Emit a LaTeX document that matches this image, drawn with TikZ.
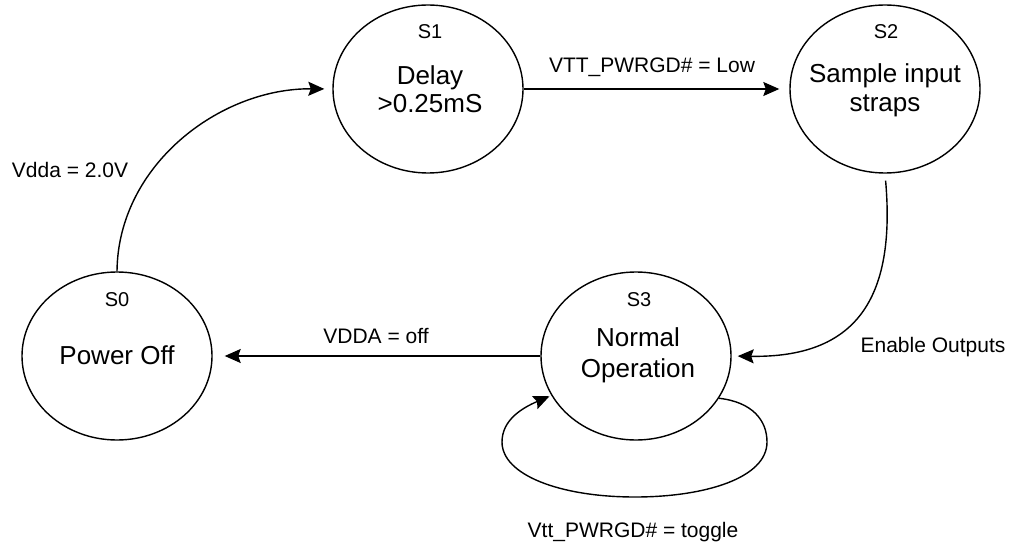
\documentclass[tikz,border=0pt]{standalone}
\usepackage{fontspec}
\setmainfont{Liberation Sans}
\usetikzlibrary{shapes.geometric,arrows.meta}
\tikzset{
  stnode/.style={ellipse, draw, line width=1.4pt, minimum width=190pt, minimum height=168pt, inner sep=0pt},
  big/.style={font=\fontsize{26}{30}\selectfont, anchor=base, inner sep=0pt},
  stlabel/.style={font=\fontsize{20}{24}\selectfont, anchor=base, inner sep=0pt},
  edgelabel/.style={font=\fontsize{21}{25}\selectfont, anchor=base, inner sep=0pt},
  arr/.style={line width=1.4pt, -{Stealth[length=16pt,width=14pt,inset=2.5pt]}}
}
\begin{document}
\begin{tikzpicture}[x=1pt,y=-1pt]
\useasboundingbox (0,0) rectangle (1011,545);
% states
\node[stnode] (s0) at (117,356) {};
\node[stnode] (s1) at (428,89) {};
\node[stnode] (s2) at (885,89) {};
\node[stnode] (s3) at (636,356) {};
% state labels
\node[stlabel] (l0) at (117,306) {S0};
\node[stlabel] (l1) at (430,39) {S1};
\node[stlabel] (l2) at (886,39) {S2};
\node[stlabel] (l3) at (639,306) {S3};
% state texts
\node[big] (t0) at (117,364) {Power Off};
\node[big] (t1a) at (430,85) {Delay};
\node[big] (t1b) at (430,113) {>0.25mS};
\node[big] (t2a) at (885,83) {Sample input};
\node[big] (t2b) at (885,112) {straps};
\node[big] (t3a) at (638,346) {Normal};
\node[big] (t3b) at (638,377) {Operation};
% transitions
\draw[arr, shorten >=8pt] (s0.north) .. controls (118,165) and (220,88) .. (s1.west);
\draw[arr, shorten >=10pt] (s1.east) -- (s2.west);
\draw[arr, shorten <=7pt, shorten >=6pt] (s2.south) .. controls (896,300) and (855,358) .. (s3.east);
\draw[arr, shorten >=12pt] (s3.west) -- (s0.east);
\draw[arr, shorten >=2pt] (s3.-27) .. controls (752,402) and (767,420) .. (767,442)
   .. controls (767,478) and (705,497) .. (635,497)
   .. controls (560,497) and (502,475) .. (502,442)
   .. controls (502,420) and (522,408) .. (s3.-155);
% edge labels
\node[edgelabel] (e01) at (70,178) {Vdda = 2.0V};
\node[edgelabel] (e12) at (652,73) {VTT\_PWRGD\# = Low};
\node[edgelabel] (e23) at (933,352) {Enable Outputs};
\node[edgelabel] (e30) at (376,343) {VDDA = off};
\node[edgelabel] (e33) at (633,537) {Vtt\_PWRGD\# = toggle};
\end{tikzpicture}
\end{document}
